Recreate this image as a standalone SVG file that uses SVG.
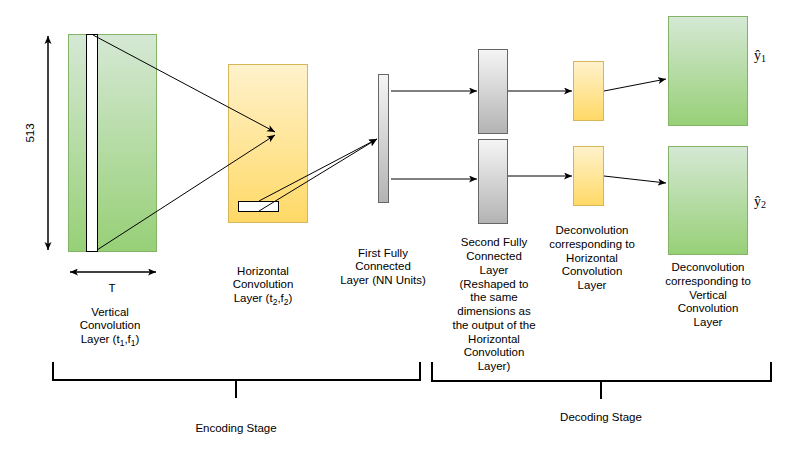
<svg xmlns="http://www.w3.org/2000/svg" width="789" height="453" viewBox="0 0 789 453">
<defs>
<linearGradient id="gGreen" x1="0" y1="0" x2="0" y2="1"><stop offset="0" stop-color="#d5e8d4"/><stop offset="1" stop-color="#97d077"/></linearGradient>
<linearGradient id="gYellow" x1="0" y1="0" x2="0" y2="1"><stop offset="0" stop-color="#fff2cc"/><stop offset="1" stop-color="#ffd966"/></linearGradient>
<linearGradient id="gGray" x1="0" y1="0" x2="0" y2="1"><stop offset="0" stop-color="#f5f5f5"/><stop offset="1" stop-color="#b3b3b3"/></linearGradient>
<marker id="arr" markerWidth="10" markerHeight="8" refX="8" refY="3.5" orient="auto" markerUnits="userSpaceOnUse"><path d="M0,0 L8,3.5 L0,7 L2,3.5 z" fill="#000"/></marker>
<marker id="arrS" markerWidth="10" markerHeight="8" refX="0" refY="3.5" orient="auto" markerUnits="userSpaceOnUse"><path d="M8,0 L0,3.5 L8,7 L6,3.5 z" fill="#000"/></marker>
</defs>
<style>
.green{fill:url(#gGreen);stroke:#82b366;stroke-width:1}
.yellow{fill:url(#gYellow);stroke:#d6b656;stroke-width:1}
.gray{fill:url(#gGray);stroke:#666666;stroke-width:1}
.white{fill:#ffffff;stroke:#000000;stroke-width:1}
.lbl{font-family:"Liberation Sans",Arial,Helvetica,sans-serif;font-size:11.5px;fill:#000;text-anchor:middle}
.conn{stroke:#000;stroke-width:1;fill:none;marker-end:url(#arr)}
.dbl{stroke:#000;stroke-width:1.5;fill:none;marker-end:url(#arr);marker-start:url(#arrS)}
.brk{stroke:#000;stroke-width:2;fill:none}
.math{font-family:"Liberation Serif","Times New Roman",serif;font-size:14px;fill:#000}
</style>

<g id="vertical-conv">
<rect class="green" x="68.5" y="34.5" width="88" height="217"/>
<rect class="white" x="86.5" y="34.5" width="11" height="217"/>
<text class="lbl" x="110" y="316">Vertical</text>
<text class="lbl" x="110" y="329">Convolution</text>
<text class="lbl" x="110" y="343">Layer  (t<tspan font-size="8.5px" dy="3">1</tspan><tspan dy="-3">,f</tspan><tspan font-size="8.5px" dy="3">1</tspan><tspan dy="-3">)</tspan></text>
</g>

<g id="dim-513">
<line class="dbl" x1="48" y1="36" x2="48" y2="250"/>
<text class="lbl" transform="translate(34,133) rotate(-90)">513</text>
</g>

<g id="dim-T">
<line class="dbl" x1="70" y1="272" x2="156" y2="272"/>
<text class="lbl" x="112" y="292">T</text>
</g>

<g id="horizontal-conv">
<rect class="yellow" x="228.5" y="64.5" width="79" height="158"/>
<rect class="white" x="238.5" y="201.5" width="40" height="10"/>
<text class="lbl" x="263" y="275">Horizontal</text>
<text class="lbl" x="263" y="288">Convolution</text>
<text class="lbl" x="263" y="302">Layer  (t<tspan font-size="8.5px" dy="3">2</tspan><tspan dy="-3">,f</tspan><tspan font-size="8.5px" dy="3">2</tspan><tspan dy="-3">)</tspan></text>
</g>

<g id="fc1">
<rect class="gray" x="378.5" y="74.5" width="10" height="128"/>
<text class="lbl" x="383" y="257">First Fully</text>
<text class="lbl" x="383" y="270">Connected</text>
<text class="lbl" x="383" y="284">Layer (NN Units)</text>
</g>

<g id="fc2">
<rect class="gray" x="478.5" y="49.5" width="29" height="84"/>
<rect class="gray" x="478.5" y="139.5" width="29" height="84"/>
<text class="lbl" x="494" y="246">Second Fully</text>
<text class="lbl" x="494" y="260">Connected</text>
<text class="lbl" x="494" y="274">Layer</text>
<text class="lbl" x="494" y="288">(Reshaped to</text>
<text class="lbl" x="494" y="301">the same</text>
<text class="lbl" x="494" y="315">dimensions as</text>
<text class="lbl" x="494" y="329">the output of the</text>
<text class="lbl" x="494" y="343">Horizontal</text>
<text class="lbl" x="494" y="356">Convolution</text>
<text class="lbl" x="494" y="370">Layer)</text>
</g>

<g id="deconv-horizontal">
<rect class="yellow" x="573.5" y="61.5" width="30" height="59"/>
<rect class="yellow" x="573.5" y="146.5" width="30" height="59"/>
<text class="lbl" x="592" y="234">Deconvolution</text>
<text class="lbl" x="592" y="248">corresponding to</text>
<text class="lbl" x="592" y="262">Horizontal</text>
<text class="lbl" x="592" y="275">Convolution</text>
<text class="lbl" x="592" y="289">Layer</text>
</g>

<g id="deconv-vertical">
<rect class="green" x="668.5" y="16.5" width="79" height="109"/>
<rect class="green" x="668.5" y="146.5" width="79" height="108"/>
<text class="math" x="754" y="60">ŷ<tspan font-size="10px" dy="2">1</tspan></text>
<text class="math" x="754" y="206">ŷ<tspan font-size="10px" dy="2">2</tspan></text>
<text class="lbl" x="708" y="271">Deconvolution</text>
<text class="lbl" x="708" y="285">corresponding to</text>
<text class="lbl" x="708" y="299">Vertical</text>
<text class="lbl" x="708" y="312">Convolution</text>
<text class="lbl" x="708" y="326">Layer</text>
</g>

<g id="connectors">
<line class="conn" x1="93" y1="35" x2="275" y2="132"/>
<line class="conn" x1="97" y1="250" x2="275" y2="135"/>
<line class="conn" x1="259" y1="201" x2="377" y2="139"/>
<line class="conn" x1="259" y1="211" x2="377" y2="139"/>
<line class="conn" x1="391" y1="91" x2="477" y2="91"/>
<line class="conn" x1="391" y1="179" x2="477" y2="179"/>
<line class="conn" x1="508" y1="91" x2="572" y2="91"/>
<line class="conn" x1="508" y1="176" x2="572" y2="176"/>
<line class="conn" x1="604" y1="91" x2="666" y2="79"/>
<line class="conn" x1="604" y1="176" x2="666" y2="183"/>
</g>

<g id="encoding-stage">
<path class="brk" d="M53,362 V380 H420 V362 M236,380 V398"/>
<text class="lbl" x="236" y="432">Encoding Stage</text>
</g>

<g id="decoding-stage">
<path class="brk" d="M432,362 V381 H771 V362 M601,381 V399"/>
<text class="lbl" x="601" y="421">Decoding Stage</text>
</g>
</svg>
